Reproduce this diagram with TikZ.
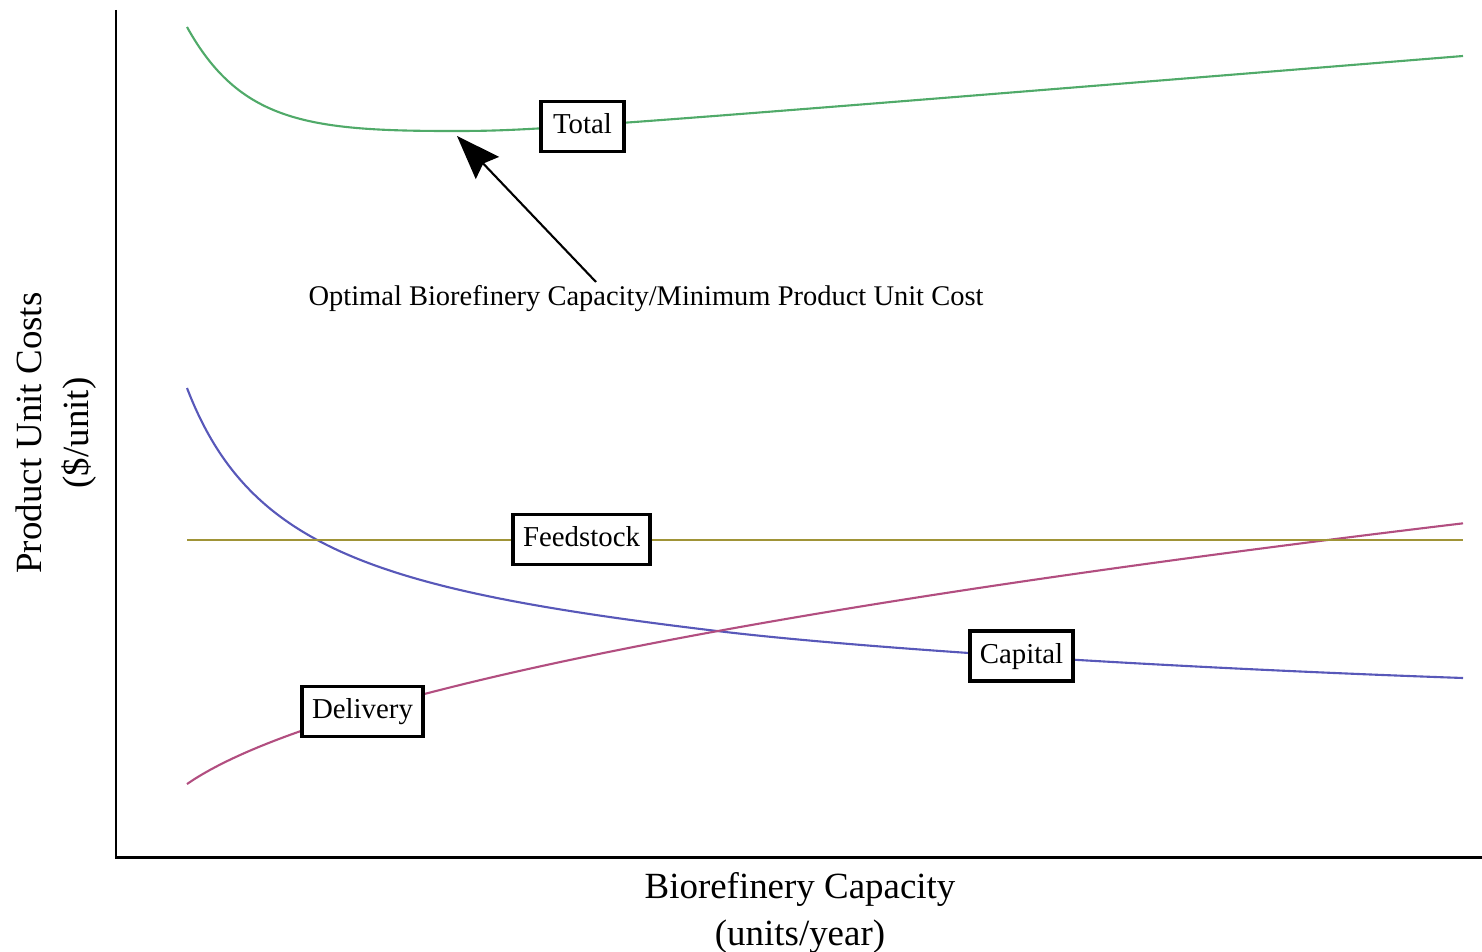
\documentclass[tikz,border=0pt]{standalone}
\usepackage{fontspec}
\setmainfont{Liberation Serif}
\usetikzlibrary{arrows.meta}
\definecolor{totalc}{RGB}{80,170,105}
\definecolor{capc}{RGB}{88,88,185}
\definecolor{delc}{RGB}{178,78,128}
\definecolor{feedc}{RGB}{160,148,55}
\tikzset{
  curve/.style={line width=0.6pt},
  lbl/.style={draw=black, fill=white, line width=1.1pt, font=\fontsize{8.2}{9.5}\selectfont,
    inner xsep=0, inner ysep=0, minimum height=0.5cm, text height=6pt, text depth=1.8pt},
  axis/.style={line width=0.85pt, black}
}
\begin{document}
\begin{tikzpicture}[x=0.01cm,y=-0.01cm]
\useasboundingbox (0,0) rectangle (1482,952);
% axes
\draw[axis] (116,10) -- (116,857) -- (1482,857);
% curves
\draw[curve, totalc] (187,27) .. controls (239,120.6) and (306.4,131) .. (450,131)
  .. controls (531,131) and (540,130.8) .. (1463,56);
\draw[curve, capc] (187,388) .. controls (248.5,548) and (373.8,589.9) .. (717,631)
  .. controls (864.5,648.7) and (1162.9,667.5) .. (1463,678);
\draw[curve, delc] plot[domain=187:1463, samples=160] (\x, {784 - 310.6*(sqrt((\x-187)/1276+0.031)-0.1761)});
\draw[curve, feedc] (187,540) -- (1463,540);
% labels
\node[lbl, minimum width=0.83cm] (total) at (582.5,126.5) {Total};
\node[lbl, minimum width=1.37cm] (feed) at (581.5,539.5) {Feedstock};
\node[lbl, minimum width=1.03cm] (cap) at (1021.5,656) {Capital};
\node[lbl, minimum width=1.21cm] (del) at (362.5,711.5) {Delivery};
% annotation
\node[font=\fontsize{8.1}{9.5}\selectfont, inner sep=0] (opt) at (646,299) {Optimal Biorefinery Capacity/Minimum Product Unit Cost};
\coordinate (astart) at (596,282);
\coordinate (atip) at (457,136);
\draw[line width=0.6pt, -{Stealth[length=0.44cm, width=0.32cm, inset=0.06cm]}] (astart) -- (atip);
% axis titles
\node[font=\fontsize{10.5}{13.3}\selectfont, align=center, inner sep=0] (xlab) at (800,913) {Biorefinery Capacity\\(units/year)};
\node[font=\fontsize{10.5}{13.3}\selectfont, align=center, inner sep=0, rotate=90] (ylab) at (56.5,433) {Product Unit Costs\\(\$/unit)};
\end{tikzpicture}
\end{document}
